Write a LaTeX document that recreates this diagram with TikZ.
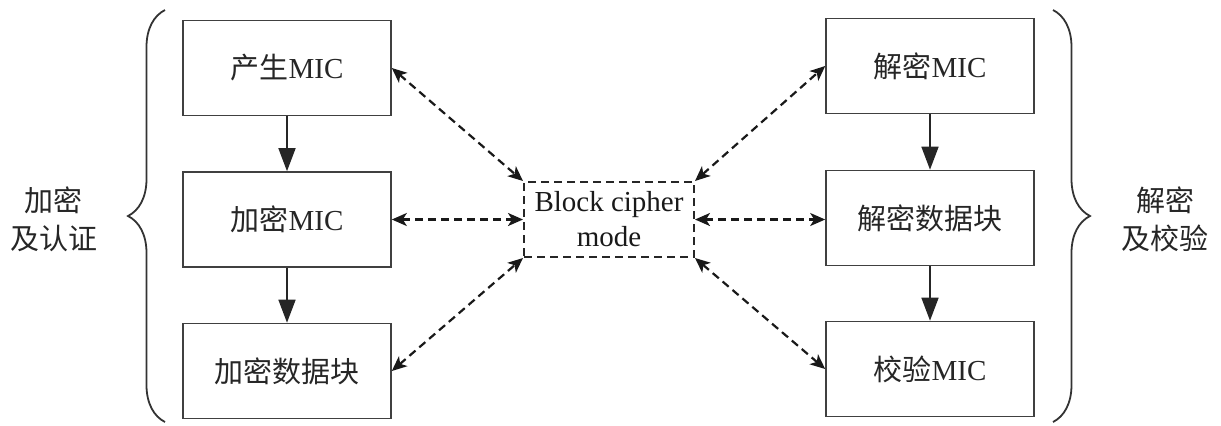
\documentclass[tikz,border=0pt]{standalone}
\usepackage{fontspec}
\setmainfont{Liberation Serif}
\newfontfamily\cjk{Noto Sans CJK SC}
\usetikzlibrary{arrows.meta,decorations.pathreplacing}

\begin{document}
\begin{tikzpicture}[x=0.5pt,y=-0.5pt,
  font=\fontsize{14.5}{17.5}\selectfont,
  stagebox/.style={draw=black!75, line width=0.8pt, minimum width=104pt,
    minimum height=47.5pt, inner sep=0pt, text=black!85},
  modebox/.style={draw=black!85, dash pattern=on 4pt off 2.5pt, line width=1pt,
    minimum width=85pt, minimum height=37.5pt, inner sep=0pt, align=center,
    text=black!90},
  flow/.style={-{Triangle[length=11.5pt,width=8.5pt]}, line width=0.8pt, draw=black!85, fill=black!85},
  link/.style={{Stealth[length=7.5pt,width=6.5pt,inset=2pt]}-{Stealth[length=7.5pt,width=6.5pt,inset=2pt]},
    dash pattern=on 4pt off 2.5pt, line width=1.1pt, draw=black!90},
  grp/.style={decorate, decoration={brace, amplitude=18.5pt}, line width=0.9pt, draw=black!80},
  sidelabel/.style={align=center, font=\fontsize{14.5}{19}\selectfont\cjk, text=black!85}
]
\useasboundingbox (0,0) rectangle (1221,425);

% encryption side
\node[stagebox] (gen)  at (287,68)  {{\cjk 产生}MIC};
\node[stagebox] (emic) at (287,219.5) {{\cjk 加密}MIC};
\node[stagebox] (eblk) at (287,371) {\cjk 加密数据块};

% decryption side
\node[stagebox] (dmic) at (930,66)  {{\cjk 解密}MIC};
\node[stagebox] (dblk) at (930,218) {\cjk 解密数据块};
\node[stagebox] (vmic) at (930,369) {{\cjk 校验}MIC};

% shared block cipher
\node[modebox] (mode) at (609,219.5) {Block cipher\\mode};

% processing order
\draw[flow] (gen)  -- (emic);
\draw[flow] (emic) -- (eblk);
\draw[flow] (dmic) -- (dblk);
\draw[flow] (dblk) -- (vmic);

% exchanges with the cipher mode
\draw[link] (gen.east)  -- (mode.north west);
\draw[link] (emic.east) -- (mode.west);
\draw[link] (eblk.east) -- (mode.south west);
\draw[link] (mode.north east) -- (dmic.west);
\draw[link] (mode.east) -- (mode.east -| dblk.west);
\draw[link] (mode.south east) -- (vmic.west);

% group braces and their labels
\coordinate (lbot) at (165,422);
\coordinate (ltop) at (165,10);
\coordinate (rtop) at (1053,10);
\coordinate (rbot) at (1053,422);
\draw[grp] (lbot) -- (ltop);
\draw[grp] (rtop) -- (rbot);

\node[sidelabel] (lgrp) at (54,219)   {加密\\及认证};
\node[sidelabel] (rgrp) at (1165,219) {解密\\及校验};
\end{tikzpicture}
\end{document}
